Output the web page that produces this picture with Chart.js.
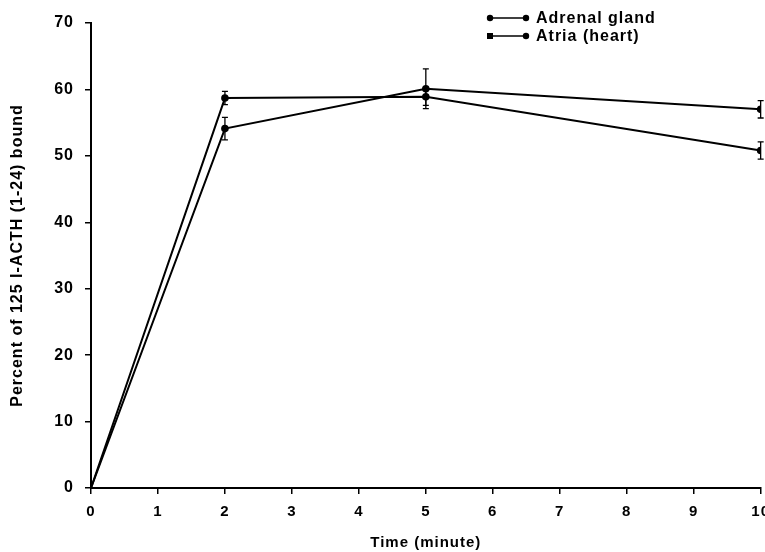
<!DOCTYPE html>
<html>
<head>
<meta charset="utf-8">
<script src="https://cdn.jsdelivr.net/npm/chart.js"></script>
<style>
  html, body { margin: 0; padding: 0; overflow: hidden; background: #fff; }
  #wrap { position: absolute; left: 0; top: 0; }
</style>
</head>
<body>
<div id="wrap"><canvas id="myChart" width="778" height="552"></canvas></div>
<script>
// data
const times = [0, 2, 5, 10];
const adrenal = [0, 54.1, 60.1, 57.0];
const adrenalErr = [0, 1.7, 3.0, 1.3];
const atria = [0, 58.7, 58.9, 50.8];
const atriaErr = [0, 1.0, 1.3, 1.3];
const legendLabels = ['Adrenal gland', 'Atria (heart)'];
const legendMarkers = ['circle', 'rect'];
const xTicks = [0, 1, 2, 3, 4, 5, 6, 7, 8, 9, 10];
const yTicks = [0, 10, 20, 30, 40, 50, 60, 70];

const FONT = '"Liberation Sans", Arial, Helvetica, sans-serif';

function points(ys) {
  return times.map((t, i) => ({ x: t, y: ys[i] }));
}

// the scanned lettering is a bit spaced out; apply to axis text only
const spacing = {
  id: 'spacing',
  beforeDraw(chart) { chart.ctx.letterSpacing = '1px'; },
  beforeDatasetsDraw(chart) { chart.ctx.letterSpacing = '0px'; }
};

// vertical error bars with caps
const errorBars = {
  id: 'errorBars',
  afterDatasetsDraw(chart) {
    const ctx = chart.ctx;
    const xs = chart.scales.x, ys = chart.scales.y;
    ctx.save();
    ctx.strokeStyle = '#000';
    ctx.lineWidth = 1.3;
    chart.data.datasets.forEach(ds => {
      ds.data.forEach((p, i) => {
        let e = ds.errors[i];
        if (!e) return;
        let px = xs.getPixelForValue(p.x);
        let top = ys.getPixelForValue(p.y + e);
        let bot = ys.getPixelForValue(p.y - e);
        ctx.beginPath();
        ctx.moveTo(px, top); ctx.lineTo(px, bot);
        ctx.moveTo(px - 3, top); ctx.lineTo(px + 3, top);
        ctx.moveTo(px - 3, bot); ctx.lineTo(px + 3, bot);
        ctx.stroke();
      });
    });
    ctx.restore();
  }
};

// legend drawn inside the plot: marker - line - marker, then label
const lineLegend = {
  id: 'lineLegend',
  afterDraw(chart) {
    const ctx = chart.ctx;
    ctx.save();
    ctx.fillStyle = '#000';
    ctx.strokeStyle = '#000';
    ctx.font = 'bold 16px ' + FONT;
    ctx.letterSpacing = '1px';
    ctx.textBaseline = 'middle';
    legendLabels.forEach((label, i) => {
      let yy = 18 + i * 18;
      let x0 = 490, x1 = 526;
      ctx.lineWidth = 1.5;
      ctx.beginPath(); ctx.moveTo(x0, yy); ctx.lineTo(x1, yy); ctx.stroke();
      if (legendMarkers[i] === 'rect') {
        ctx.fillRect(x0 - 3, yy - 3, 6, 6);
      } else {
        ctx.beginPath(); ctx.arc(x0, yy, 3.2, 0, Math.PI * 2); ctx.fill();
      }
      ctx.beginPath(); ctx.arc(x1, yy, 3.2, 0, Math.PI * 2); ctx.fill();
      ctx.fillText(label, 536, yy + 1);
    });
    ctx.restore();
  }
};

const yFont = { family: FONT, size: 16, weight: 'bold' };
const xFont = { family: FONT, size: 15, weight: 'bold' };

new Chart(document.getElementById('myChart'), {
  type: 'line',
  data: {
    datasets: [
      { label: legendLabels[0], data: points(adrenal), errors: adrenalErr },
      { label: legendLabels[1], data: points(atria), errors: atriaErr }
    ].map(ds => Object.assign(ds, {
      borderColor: '#000',
      backgroundColor: '#000',
      borderWidth: 2,
      pointRadius: [0, 3.8, 3.8, 3.8],
      pointBorderWidth: 0,
      tension: 0,
      fill: false
    }))
  },
  options: {
    responsive: false,
    animation: false,
    layout: { padding: { top: 23, left: 0, right: 0, bottom: 0 } },
    plugins: { legend: { display: false }, tooltip: { enabled: false } },
    scales: {
      x: {
        type: 'linear',
        min: 0, max: 10,
        afterBuildTicks: s => { s.ticks = xTicks.map(v => ({ value: v })); },
        afterFit: s => { s.height = 64; },
        grid: { drawOnChartArea: false, color: '#000', tickLength: 6, lineWidth: 1.5 },
        border: { color: '#000', width: 2 },
        ticks: { color: '#000', font: xFont, padding: 9, maxRotation: 0 },
        title: { display: true, text: 'Time (minute)', color: '#000', font: xFont, padding: 0 }
      },
      y: {
        min: 0, max: 70,
        afterBuildTicks: s => { s.ticks = yTicks.map(v => ({ value: v })); },
        afterFit: s => { s.width = 91; },
        grid: { drawOnChartArea: false, color: '#000', tickLength: 6, lineWidth: 1.5 },
        border: { color: '#000', width: 2 },
        ticks: { color: '#000', font: yFont, padding: 11 },
        title: { display: true, text: 'Percent of 125 I-ACTH (1-24) bound', color: '#000', font: yFont, padding: { top: 8, bottom: 0 } }
      }
    }
  },
  plugins: [spacing, errorBars, lineLegend]
});
</script>
</body>
</html>
